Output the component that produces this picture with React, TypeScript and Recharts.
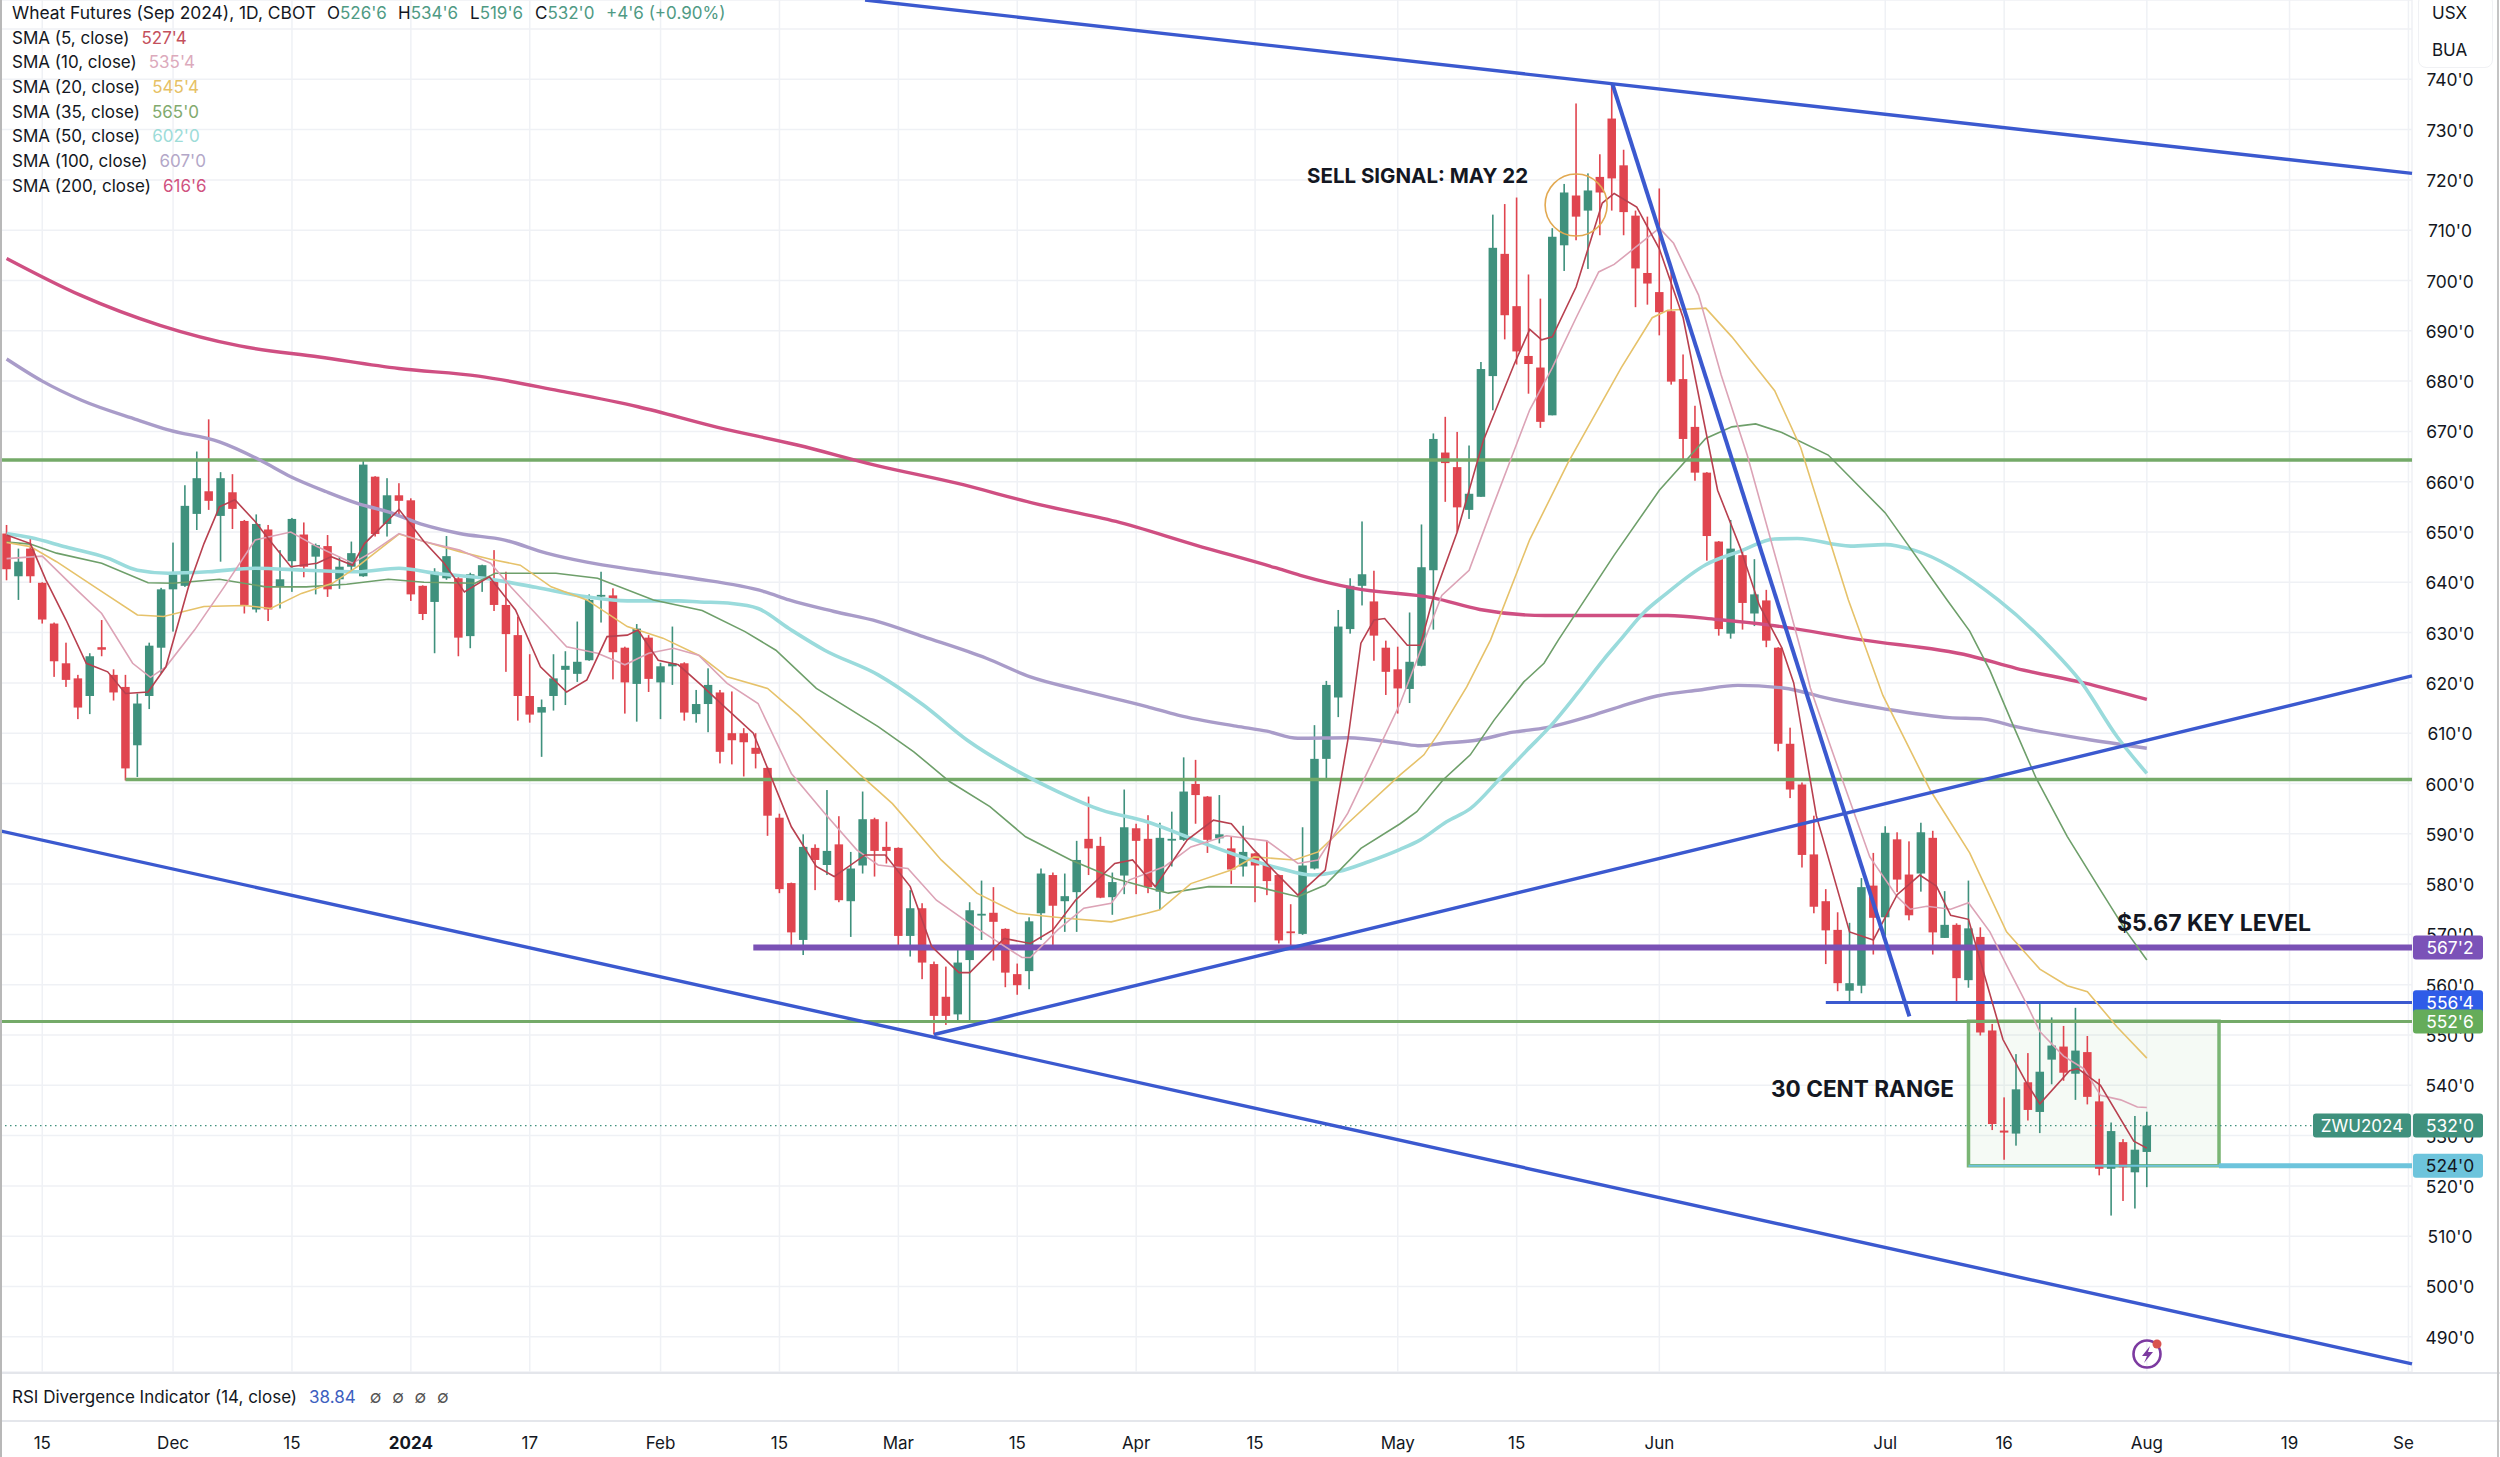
import React from "react";
import { ComposedChart, Bar, Line, XAxis, YAxis, CartesianGrid, ReferenceLine, ReferenceArea, ReferenceDot } from "recharts";

const opens = [
649.7,641.2,646.7,639.9,631.8,623.9,620.9,617.4,627.1,621.6,
619.2,607.6,617.4,627,638.6,639.3,653.6,658.1,653.2,657.9,
652.2,634.6,650.5,639.1,644.2,649.5,645.1,647.2,640.6,643.1,
641.2,661,651.6,657.3,656.3,639.3,636.1,640.8,640.8,629.3,
640.8,640.5,635.5,629.5,617.4,614.1,617.4,622.6,621.8,624.5,
637.3,637.4,627,619.8,629,620.1,623.3,623.9,613.8,615.8,
618.1,610,610,607.1,603.1,593.2,580.2,568.9,587.2,583.8,
587.9,576.6,583.7,592.9,587.4,587.2,569.7,575.2,564.1,557.6,
554.1,564.9,573.9,574.3,571.1,562.1,562.7,574.2,581.8,576.6,
578.4,589,587.6,577.4,581.7,591.1,589,578.5,588.9,588.8,
599.9,597.4,589.1,587.1,583.5,586.1,583.8,581.8,570.6,570.1,
583.1,604.9,617.1,630.7,639.3,636.2,627,622.7,618.8,623.4,
642.4,665.8,662.9,654.4,657,681,705.3,694.9,685,682.7,
673.2,707,716.9,713.9,720.6,732.2,722.9,712.9,701.5,697.7,
693.9,680.4,670.9,661.8,648.1,629.8,645.4,633.8,636.4,627,
607.9,599.8,585.9,576.6,570.9,558.8,559.8,579.7,573.4,588.9,
581.9,582.1,589.2,569.3,571.9,560.9,569.5,550.9,531,530.4,
540.6,534.7,545.1,547.7,542.3,546.6,536.8,523.4,528.7,522.7,526.75];

const highs = [
651.4,646.7,649.1,640,632,628,621.6,625.9,632.5,622.7,
621.6,617.9,628,638.9,647.9,659.3,666,672.4,661.9,661.5,
652.4,653.5,651.4,646.4,652.8,651.9,647.7,649.4,645.1,648.1,
664.3,661.1,660.7,659.7,656.7,639.4,642.8,649.2,641.4,641.9,
643.5,646.4,642.1,633.2,625.7,616.7,625.7,626.3,632.2,637.6,
642.1,638.8,627.2,631.7,629.5,624,631.2,624.1,618.6,622.9,
618.6,618.3,611,610,603.3,594,580.3,589.9,587.9,598.7,
593.5,586.4,598.4,593.2,592.4,587.3,578.8,576.2,564.6,563.6,
567.6,576.4,580.7,579.4,571.2,564.2,573.4,583.1,582.3,582.1,
588.6,597.4,589.4,582.3,598.8,592,593.7,592.2,594.4,605.2,
604.7,597.5,597.7,589.4,591.6,586.2,588.6,581.9,576,591.3,
611.6,620.4,634.5,640.8,652.1,642.3,628.4,627.2,634,651.5,
669.6,672.9,669.9,667.2,683.8,713.1,715.2,716.5,701.2,696.4,
710.4,719.2,735.2,721.3,725.1,739.1,726,713.9,712.7,718.3,
701.7,685.3,675.1,661.9,648.2,652.4,646.5,644.6,638.5,627.1,
611.1,600.2,593.6,579,574.4,572.3,581.2,586.2,591.5,590.3,
588.5,592.2,590.6,578.6,572.2,580.7,571.4,552.2,537.6,546.2,
546.4,556.4,553.5,551.8,555.4,549.8,541.3,532.6,529.3,533.9,534.75];

const lows = [
640.4,636.5,639.9,631.8,621.2,619.2,612.8,613.8,625.3,616.5,
600.6,601.3,614.8,621.9,630.2,639.1,650.4,654.4,644.1,650.6,
633.8,634,632.3,634.8,638.1,641,637.6,637.1,638.7,642.4,
641.1,649.1,649.1,653.4,636.3,632.5,625.9,640.5,625.3,626.9,
638.1,634.3,622.2,612.5,612.1,605.3,614.5,615.6,620.2,624.4,
632,620.7,613.9,612.3,618.2,612.8,619.6,612.5,612.1,610.2,
604,603.8,601.4,603,589.6,578.2,567.9,565.9,578.8,581.8,
576.4,569.5,582.1,581.5,584.1,567.9,565.6,561.1,550.1,552,
552.8,552.8,568.9,564.8,559.5,558,559.1,568.9,567.9,570.5,
570.5,581.8,577.2,573.9,578,578,578.2,574.9,583.5,588.6,
592,586.2,588.1,580,581.5,576.4,577.8,568.2,567.6,569.9,
582.9,600.9,613.2,629.8,635.4,624.4,617.6,613.9,616,623.3,
630.6,656,650,652.6,657,674.2,688.3,683.3,677.5,670.7,
673.2,701.9,708,702.3,709,713.9,709,694.7,695.2,689.1,
679.3,664.3,660.2,644.3,629.4,628.8,630.6,631.3,627.1,606.4,
597.1,583.3,574.2,564.1,558.7,556.5,558.3,566,569.7,578.4,
572.8,578.5,566,569.3,556.4,559.4,549.9,531.1,525.2,528,
533,530.5,540.2,540.9,537.1,536.2,522.1,514.1,517,515.5,519.75];

const closes = [
642.6,644.1,641.2,632.6,624.3,620.6,615.1,625.3,626.6,618.1,
603,615.9,627.4,638.6,641.6,655.2,660.7,656.2,660.7,654.6,
635.5,651.6,634.6,640.6,652.6,643.1,647.4,638.6,643.1,645.8,
663.4,649.6,657.3,656.2,637.6,633.7,642.1,645.2,629,641.6,
643.4,635.5,629.7,617.4,613.7,615.2,620.9,623.4,624.2,636.5,
637.5,626.1,620.1,630.8,620.8,623.3,623.9,614.1,615.8,619.6,
606.3,608.6,608.2,605.9,593.6,579,570.4,587.4,584.8,586.6,
576.8,583.1,592.9,586.6,586.6,569.7,575.2,564.4,553.8,553.8,
564.4,574.8,574.1,572.5,562.4,559.9,572.6,582.1,575.7,577.6,
584.8,587.1,577.3,580.4,591.3,588.6,579.4,589.2,589,598.4,
597.7,588.8,589.9,582.9,586.4,583.7,580.6,568.8,570.4,583.7,
604.9,619.6,631.2,639.3,641.6,629.4,622.2,618.9,624.2,643,
668.5,663.7,654.9,657.6,682.4,706.5,693.1,685.9,683.4,671.9,
708.7,717.5,712.7,717.9,717.5,720.3,713.6,702.4,699.4,693.7,
679.9,668.5,661.8,649.2,630.7,646.7,635.9,637.6,628.4,607.9,
598.8,585.8,575.5,570.8,560.3,560.3,579.4,573.3,590.2,580.9,
573.8,590.3,570.4,571.9,561.3,571.2,550.5,532.3,530.6,539.2,
535.1,542.7,547.9,542.5,546.9,537.7,523.4,530.9,523.7,527.2,532];

// SMA readings: [candle index, price]
const sma5 = [[0,649.4],[2,647.7],[3.3,640.5],[5,632.5],[6.7,623.9],[8.5,622.2],[10,617.9],[11.9,618.2],[13.4,623.2],[15.3,639.1],[16.6,647.7],[17.9,655],[19.2,656.4],[20.9,652.1],[22,648.7],[23.9,643.1],[26.1,643.8],[27.3,645.1],[29.1,643.4],[30.1,647.7],[33,654.5],[35.1,648.1],[36.8,643.8],[38.5,638.1],[40.6,641.1],[42.8,634.5],[44.9,623.2],[47.1,618.2],[48.8,620.6],[50.5,629.2],[52.2,629.5],[53.1,630.5],[54.8,624.5],[56.5,623.6],[58.5,619.4],[60.5,615],[62.8,610],[66,591.4],[68.1,583.5],[69.6,581.5],[72.2,585.8],[73.9,585.8],[76,579.5],[77.8,567.6],[80.1,562.4],[81,562.4],[83.9,569.2],[86.1,568.2],[88,570.9],[89.9,576.8],[93.2,584.1],[94.7,584.8],[96.6,579.5],[99.3,588.8],[101.5,592.7],[103,592],[104.9,586.8],[106.8,582.1],[108.6,577.8],[110.9,582.8],[112.8,608.6],[113.9,627.9],[115,632.5],[115.9,632.8],[117.8,627.5],[118.9,627.5],[119.9,636.3],[122,650],[124.2,668.2],[126.8,683.4],[128.1,690.3],[129.1,688.2],[130,688.8],[132,698.7],[134.2,715.4],[135.2,717.3],[137.1,714.6],[139,706.3],[141,692.6],[143.9,658.3],[145.8,646.9],[147.4,635.5],[149.3,627],[150.3,620],[152.2,593.6],[155,570.5],[157,568.9],[159,577.9],[160.9,581.8],[162.3,579.6],[163.5,573.8],[165,573],[166.5,560.6],[167.9,549.1],[169.9,540.4],[171,536.3],[173.5,542.9],[174.2,543.3],[176.1,540],[178.9,528.9],[180,527.5]];
const sma10 = [[0,644.7],[3,645.2],[5.9,638.5],[8,633.8],[10.6,623.9],[12.1,621.1],[13.4,623.2],[15.8,630.5],[18.3,639.1],[20.9,648.4],[23.9,650],[26.1,647.1],[29.1,643.8],[30.8,646.1],[33,649.7],[35.1,648.1],[38.1,646.4],[40.7,643.8],[42.4,639.1],[45,632.5],[47.1,627.2],[49.7,625.9],[52,623.6],[54,625.9],[56.1,626.9],[58.2,625.5],[60.6,619.9],[63.2,615.9],[66,602],[68.8,594.1],[71.5,586.8],[73.3,583.8],[75.8,583.1],[78.2,576.8],[80.8,572.5],[83.1,568.9],[85.4,565.4],[86.1,565.4],[88.4,570.9],[90.6,575.2],[92.9,576.2],[94.4,580.8],[97.4,583.5],[99.6,587.4],[102.6,589.6],[106,588.6],[108.6,584.1],[110.3,584.8],[112.8,594.1],[117.2,615.9],[120.7,637.4],[123,642.4],[124.9,654.5],[126.5,664.4],[128.1,674.3],[130,682.7],[132,692.6],[133.9,701.7],[135.2,703.2],[139,710.4],[140.2,707.4],[142.3,697.1],[144.2,681.2],[146.4,665.2],[149,643.1],[150.9,626.5],[151.7,619],[153.6,606],[156.7,585.4],[159,577.5],[160.1,575],[161.5,575.6],[163.5,575],[165,576.3],[166.8,570.5],[168.2,563.9],[169.9,556.1],[171,550.7],[173,545.8],[174.7,543.3],[176.1,538],[177.8,537.1],[179.2,535.7],[180,535.6]];
const sma20 = [[0,647.9],[2,647.1],[4.2,644.1],[7.6,638.8],[11,633.5],[13.2,633.2],[16.6,635.2],[20,635.4],[22.2,634.8],[24.8,637.8],[27.4,639.8],[29.5,643.1],[33,649.6],[35.1,648.1],[38.1,646.1],[40.7,644.6],[43.2,643.4],[45.8,639.1],[48.8,636.5],[52.2,631.2],[55.2,628.9],[58.3,625.4],[60.6,621.2],[64,618.9],[66.6,613.6],[71.8,601.7],[74.5,596],[78.6,584.8],[81.6,578.2],[85,574.2],[89.1,573.2],[92.9,572.5],[95.9,574.2],[97,574.9],[99.6,580.1],[103,582.8],[104.9,585.4],[108.3,584.8],[110.3,586.4],[112.8,592.1],[117.2,601.7],[119.2,605.7],[120.6,610.6],[122.8,619.2],[124.8,628.5],[128.1,648.5],[131.3,663.7],[135.8,682.7],[138.4,692.6],[139.7,694.1],[142.9,694.5],[145.1,688.8],[148.7,678.1],[150.9,666.7],[153.5,647],[154.9,636.5],[157.8,617.5],[161.8,598.6],[165.1,586.2],[168.2,570.5],[171,563.1],[173.3,559.8],[175,558.6],[177.5,551.6],[180,545.4]];
const sma35 = [[0,648],[2,647.6],[4.2,645.8],[8,643.8],[11.9,639.9],[14,639.8],[17.9,640.6],[21.8,639.1],[25.2,639.1],[28.6,639.6],[32.1,640.6],[35.1,640],[39.4,639.8],[41.1,641.8],[46.2,641.8],[49.7,640.8],[54.4,636.5],[58.5,634.4],[62.1,630.2],[64.7,626.5],[68.1,618.9],[73.3,611.3],[76.3,606.3],[79.3,600.4],[82.7,595.4],[85.7,589.4],[89.5,584.8],[93.2,581.1],[97.7,578.2],[101.1,579.5],[105.3,579.4],[108.6,577.5],[110.9,579.8],[113.9,587.1],[117.2,592],[118.6,594.4],[120.8,600.7],[123.1,605.7],[125.1,612.6],[127.6,620.2],[129.3,623.9],[130.5,628.5],[135.2,645.4],[139,658.3],[142.9,668.6],[145.1,670.9],[147.1,671.5],[149.3,669.8],[153.2,665.3],[158,653.8],[163.2,636.5],[165.1,630.3],[166.8,622.5],[168.8,611.3],[170.7,601],[173.3,589.5],[176.1,578.8],[178.3,570.5],[180,564.9]];
const sma50 = [[0,649.7],[2,648.9],[5,647],[8.5,644.8],[11,642.4],[13.6,641.8],[17,642.1],[20.9,642.8],[25.2,642.4],[29.5,642.1],[33,642.8],[36,641.8],[40.2,640.8],[44.5,639],[48.8,637.1],[52.2,636.3],[56.5,636.3],[58.3,636.1],[61,635.8],[63.2,634.8],[65.8,630.8],[68.8,626.5],[73.3,621.6],[77.1,615.6],[80.8,608.6],[84.6,603],[88.4,598.4],[92.1,594.7],[95.9,592.4],[99.6,589.1],[103.4,585.8],[107.1,583.1],[109.8,581.8],[112,582.5],[114.6,584.5],[117.2,586.9],[118.9,588.8],[121.1,592.4],[123.1,595],[125.6,601],[127.9,606.7],[129.8,611.3],[132.1,617.9],[134.3,624.6],[135.7,628.5],[137.7,634],[139.4,637.4],[142.9,643.5],[145.8,646.2],[148.7,648.6],[150.6,648.7],[155.1,647.2],[158,647.5],[160.4,646.4],[167.5,636.5],[171.9,627],[174.4,620.4],[177.5,609.3],[180,602]];
const sma100 = [[0,684.4],[3,680],[6.3,676.2],[11,672.3],[13.6,670.3],[17.9,667.9],[21.3,664.3],[23.9,661],[26.9,658],[29.5,655.7],[32.1,654],[35.1,651.4],[38.1,649.7],[41.9,648.4],[45.4,645.8],[48.8,644],[53.1,642.4],[57.4,640.9],[63.8,638.1],[65.8,636.5],[69.6,634.2],[73.3,632.2],[77.1,629.2],[82.4,624.9],[86.1,621.2],[90.2,618.6],[95.9,615.3],[98.5,613.6],[103.4,611.4],[106,610.4],[108.6,609],[112.8,609.1],[117.2,608],[118.9,607.5],[120.8,608],[123.6,608.6],[126.7,610.2],[129.5,611.1],[132.9,613.2],[135.7,615.3],[138.8,617.4],[142.4,618.6],[145.6,619.5],[149.4,619],[153.6,616.7],[157.8,614.9],[163.4,613.1],[166.3,612.8],[169,611.3],[174.7,608.9],[180,607]];
const sma200 = [[0,704.4],[6.2,697.1],[12.9,691.1],[19.6,687],[26.3,684.8],[33,682.5],[39.7,681],[46.4,678.1],[53.1,674.9],[59.8,670.8],[66.5,667.3],[73.2,663.2],[79.9,659.7],[86.6,655.6],[93.3,652.1],[100,647.4],[106.7,642.9],[108.8,641.4],[113.4,638.8],[120,636.9],[123.9,634.6],[129.4,633.4],[139.7,633.4],[143.9,632.6],[148.3,631.5],[155.9,628.6],[165.1,625.4],[169,622.9],[174.7,620],[180,616.7]];

const priceTicks = [490,500,510,520,530,540,550,560,570,580,590,600,610,620,630,640,650,660,670,680,690,700,710,720,730,740,750];
const dateTicks = [3,14,24,34,44,55,65,75,85,95,105,117,127,139,158,168,180,192,202];
const dateLabels = ["15","Dec","15","2024","17","Feb","15","Mar","15","Apr","15","May","15","Jun","Jul","16","Aug","19","Se"];

const smaLegend = [["SMA (5, close)","527'4","#c4505c"],["SMA (10, close)","535'4","#dcaabc"],["SMA (20, close)","545'4","#e6c165"],["SMA (35, close)","565'0","#82aa6e"],["SMA (50, close)","602'0","#9ddcd8"],["SMA (100, close)","607'0","#b3a7c8"],["SMA (200, close)","616'6","#d0527f"]];
const priceTags = [[567.4,"567'2","#7b52b8","#fff"],[556.5,"556'4","#2f5ce8","#fff"],[552.7,"552'6","#65ac5a","#fff"],[532,"532'0","#3f917d","#fff"],[524,"524'0","#6dc4dc","#131722"]];

const UP = "#3f917d", DOWN = "#e0454f", BLUE = "#3b59cf", GREEN = "#74aa68", FONT = "Inter, 'Liberation Sans', sans-serif";
const X_MIN = -0.555, X_MAX = 202.3, Y_MIN = 483, Y_MAX = 755.77;
const BODY = 8.5;

const candles = opens.map((o, i) => ({ i, o, h: highs[i], l: lows[i], c: closes[i], range: [lows[i], highs[i]] }));
const pts = (a: number[][]) => a.map(([i, v]) => ({ i, v }));

const Candle = (p: any) => {
  const { x, y, width, height, payload } = p;
  const { o, h, l, c } = payload;
  const k = height / (h - l);
  const cx = x + width / 2;
  const top = y + (h - Math.max(o, c)) * k;
  const bh = Math.max(1.8, Math.abs(o - c) * k);
  const col = c >= o ? UP : DOWN;
  return (
    <g>
      <rect x={cx - 0.8} y={y} width={1.6} height={height} fill={col} />
      <rect x={cx - BODY / 2} y={top} width={BODY} height={bh} fill={col} />
    </g>
  );
};

const PriceTick = (p: any) => (
  <text x={p.x + 38} y={p.y + 7} textAnchor="middle" fontFamily={FONT} fontSize={17.4} fill="#131722">{`${p.payload.value}'0`}</text>
);
const DateTick = (p: any) => {
  const label = dateLabels[dateTicks.indexOf(p.payload.value)];
  const bold = label === "2024";
  const xx = label === "Se" ? p.x - 5 : p.x;
  return <text x={xx} y={p.y + 77} textAnchor="middle" fontFamily={FONT} fontSize={17} fontWeight={bold ? 700 : 400} fill="#131722">{label}</text>;
};
const Tag = (p: any) => {
  const { cx, cy, text, bg, fg } = p;
  return (
    <g>
      <rect x={cx + 1} y={cy - 12} width={70} height={24} rx={3} fill={bg} />
      <text x={cx + 38} y={cy + 6.5} textAnchor="middle" fontFamily={FONT} fontSize={17.4} fill={fg}>{text}</text>
    </g>
  );
};
const NameTag = (p: any) => (
  <g>
    <rect x={p.cx - 99} y={p.cy - 12} width={98} height={24} rx={3} fill={UP} />
    <text x={p.cx - 50} y={p.cy + 6.5} textAnchor="middle" fontFamily={FONT} fontSize={17} fill="#fff">ZWU2024</text>
  </g>
);

const Txt = ({ x, y, c = "#131722", w = 400, s = 17, children }: any) => (
  <div style={{ position: "absolute", left: x, top: y - 12, lineHeight: "24px", fontFamily: FONT, fontSize: s, fontWeight: w, color: c, whiteSpace: "nowrap" }}>{children}</div>
);

export default function App() {
  return (
    <div style={{ position: "absolute", left: 0, top: 0, width: 2500, height: 1457, overflow: "hidden", background: "#fff" }}>
      <ComposedChart width={2500} height={1457} data={candles} margin={{ top: 0, right: 0, bottom: 0, left: 0 }}>
        <CartesianGrid stroke="#eff1f5" strokeWidth={1.5} />
        <XAxis dataKey="i" type="number" domain={[X_MIN, X_MAX]} allowDataOverflow ticks={dateTicks} interval={0} height={85} tickLine={false} axisLine={false} tickSize={0} tickMargin={0} tick={<DateTick />} />
        <YAxis orientation="right" type="number" domain={[Y_MIN, Y_MAX]} allowDataOverflow ticks={priceTicks} interval={0} width={88} tickLine={false} axisLine={false} tickSize={0} tickMargin={0} tick={<PriceTick />} />

        <ReferenceArea x1={165} x2={186.07} y1={524} y2={552.75} fill="#6eb46e" fillOpacity={0.07} stroke="#7ab574" strokeWidth={3.5} ifOverflow="visible" />
        <ReferenceLine y={664.3} stroke={GREEN} strokeWidth={3.5} />
        <ReferenceLine segment={[{ x: 10, y: 600.8 }, { x: X_MAX, y: 600.8 }]} stroke={GREEN} strokeWidth={3.5} />
        <ReferenceLine y={552.7} stroke={GREEN} strokeWidth={3} />
        <ReferenceLine segment={[{ x: 62.8, y: 567.4 }, { x: X_MAX, y: 567.4 }]} stroke="#7a51b5" strokeWidth={6} />
        <ReferenceLine segment={[{ x: 153, y: 556.45 }, { x: X_MAX, y: 556.45 }]} stroke={BLUE} strokeWidth={3} />
        <ReferenceLine segment={[{ x: 186.07, y: 524 }, { x: X_MAX, y: 524 }]} stroke="#6dc4dc" strokeWidth={5} />
        <ReferenceLine segment={[{ x: 165, y: 524 }, { x: 186.07, y: 524 }]} stroke="#6dc4dc" strokeWidth={2} />
        <ReferenceLine segment={[{ x: X_MIN, y: 532 }, { x: 194, y: 532 }]} stroke={UP} strokeWidth={1.2} strokeDasharray="1.5 3.5" />

        <Bar dataKey="range" barSize={8} isAnimationActive={false} shape={<Candle />} />

        <Line data={pts(sma200)} dataKey="v" type="monotone" stroke="#cf4f82" strokeWidth={3.4} dot={false} activeDot={false} isAnimationActive={false} />
        <Line data={pts(sma100)} dataKey="v" type="monotone" stroke="#a99cc9" strokeWidth={3.4} dot={false} activeDot={false} isAnimationActive={false} />
        <Line data={pts(sma50)} dataKey="v" type="monotone" stroke="#9adbdc" strokeWidth={3.6} dot={false} activeDot={false} isAnimationActive={false} />
        <Line data={pts(sma35)} dataKey="v" type="linear" stroke="#6e9f6a" strokeWidth={1.6} dot={false} activeDot={false} isAnimationActive={false} />
        <Line data={pts(sma20)} dataKey="v" type="linear" stroke="#e6c26a" strokeWidth={1.6} dot={false} activeDot={false} isAnimationActive={false} />
        <Line data={pts(sma10)} dataKey="v" type="linear" stroke="#dca3b6" strokeWidth={1.6} dot={false} activeDot={false} isAnimationActive={false} />
        <Line data={pts(sma5)} dataKey="v" type="linear" stroke="#b8404f" strokeWidth={1.6} dot={false} activeDot={false} isAnimationActive={false} />

        <ReferenceLine segment={[{ x: 72.2, y: 755.77 }, { x: X_MAX, y: 721.3 }]} stroke={BLUE} strokeWidth={3.4} />
        <ReferenceLine segment={[{ x: X_MIN, y: 590.6 }, { x: X_MAX, y: 484.6 }]} stroke={BLUE} strokeWidth={3.4} />
        <ReferenceLine segment={[{ x: 78, y: 550.1 }, { x: X_MAX, y: 621.4 }]} stroke={BLUE} strokeWidth={3.4} />
        <ReferenceLine segment={[{ x: 135.05, y: 739.1 }, { x: 160.03, y: 553.7 }]} stroke={BLUE} strokeWidth={4} />
        <ReferenceDot x={132} y={715} r={31} fill="none" stroke="#e2a951" strokeWidth={1.6} ifOverflow="visible" />

        <ReferenceDot x={X_MAX} y={532} ifOverflow="visible" zIndex={2500} shape={<NameTag />} />
        {priceTags.map(([v, text, bg, fg]) => (
          <ReferenceDot key={String(text)} x={X_MAX} y={v as number} ifOverflow="visible" zIndex={2500} shape={<Tag text={text} bg={bg} fg={fg} />} />
        ))}
      </ComposedChart>

      <div style={{ position: "absolute", left: 0, top: 1372, width: 2500, height: 50, borderTop: "2px solid #e4e6eb", borderBottom: "2px solid #e4e6eb", boxSizing: "border-box", background: "#fff" }} />
      <div style={{ position: "absolute", left: 0, top: 0, width: 2, height: 1457, background: "#b8b8b8" }} />
      <div style={{ position: "absolute", left: 2497, top: 0, width: 2, height: 1457, background: "#c4c4c4" }} />
      <div style={{ position: "absolute", left: 2418, top: -6, width: 75, height: 74, border: "1.5px solid #f0f1f4", borderRadius: 8, background: "#fff", boxSizing: "border-box" }} />
      <Txt x={2432} y={13}>USX</Txt>
      <Txt x={2432} y={50}>BUA</Txt>

      <Txt x={12} y={13} s={17.4}>Wheat Futures (Sep 2024), 1D, CBOT</Txt>
      <Txt x={327} y={13}>O<span style={{ color: "#4f9a84" }}>526'6</span></Txt>
      <Txt x={398} y={13}>H<span style={{ color: "#4f9a84" }}>534'6</span></Txt>
      <Txt x={470} y={13}>L<span style={{ color: "#4f9a84" }}>519'6</span></Txt>
      <Txt x={535} y={13}>C<span style={{ color: "#4f9a84" }}>532'0</span></Txt>
      <Txt x={606} y={13} c="#4f9a84">+4'6 (+0.90%)</Txt>
      {smaLegend.map(([name, val, col], k) => (
        <Txt key={name} x={12} y={37.7 + k * 24.65}>{name}<span style={{ color: col, marginLeft: 12 }}>{val}</span></Txt>
      ))}

      <Txt x={12} y={1397}>RSI Divergence Indicator (14, close)<span style={{ color: "#3d5fc0", marginLeft: 12 }}>38.84</span><span style={{ color: "#555", marginLeft: 14, wordSpacing: 6 }}>∅ ∅ ∅ ∅</span></Txt>

      <Txt x={1307} y={176} w={700} s={20.5}>SELL SIGNAL: MAY 22</Txt>
      <Txt x={1771} y={1089} w={700} s={22.6}>30 CENT RANGE</Txt>
      <Txt x={2117} y={923} w={700} s={23}>$5.67 KEY LEVEL</Txt>

      <svg style={{ position: "absolute", left: 2130, top: 1337 }} width={36} height={36} viewBox="0 0 36 36">
        <circle cx={17} cy={17} r={13.5} fill="none" stroke="#7c3aa0" strokeWidth={2.6} />
        <path d="M20 9 L12 19 L17 19 L14 26 L23 15 L18 15 Z" fill="#7c3aa0" />
        <circle cx={27} cy={7} r={4.5} fill="#d9534f" />
      </svg>
    </div>
  );
}
